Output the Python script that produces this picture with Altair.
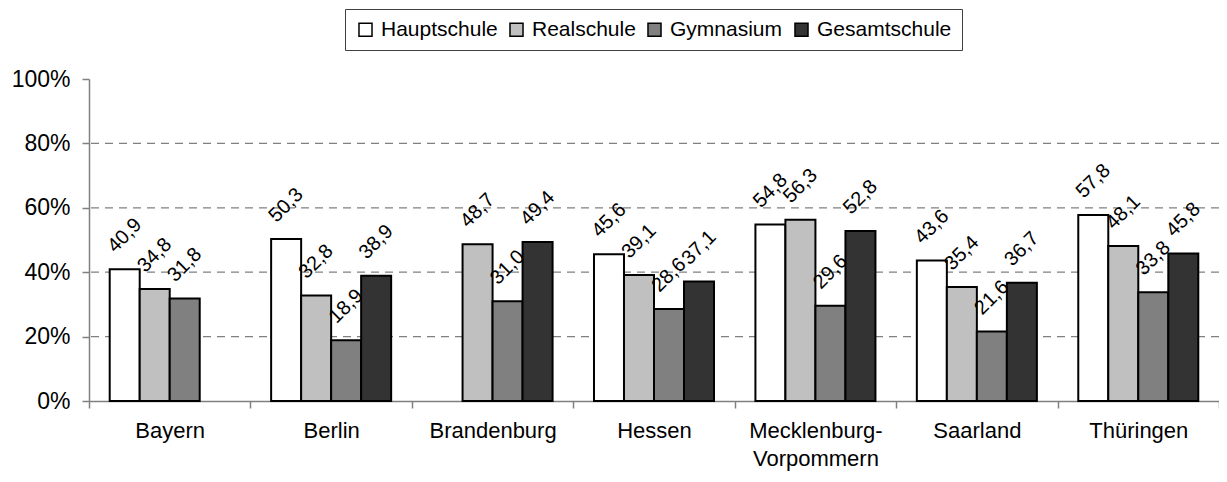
import altair as alt
import pandas as pd

categories = ["Bayern", "Berlin", "Brandenburg", "Hessen",
              "Mecklenburg-Vorpommern", "Saarland", "Thüringen"]
schools = ["Hauptschule", "Realschule", "Gymnasium", "Gesamtschule"]
hauptschule = [40.9, 50.3, None, 45.6, 54.8, 43.6, 57.8]
realschule = [34.8, 32.8, 48.7, 39.1, 56.3, 35.4, 48.1]
gymnasium = [31.8, 18.9, 31.0, 28.6, 29.6, 21.6, 33.8]
gesamtschule = [None, 38.9, 49.4, 37.1, 52.8, 36.7, 45.8]
grid_values = [20, 40, 60, 80]
y_ticks = [0, 20, 40, 60, 80, 100]
colors = ["#FFFFFF", "#C0C0C0", "#808080", "#333333"]

series = dict(zip(schools, [hauptschule, realschule, gymnasium, gesamtschule]))
rows = []
for s, vals in series.items():
    for c, v in zip(categories, vals):
        if v is not None:
            rows.append({"Land": c, "Schulform": s, "Wert": v})
df = pd.DataFrame(rows)
grid_df = pd.DataFrame({"g": grid_values})

FONT = "Liberation Sans"
LIFT = 10.5  # label lift above bar top (in data units)

x_enc = alt.X("Land:N", sort=categories,
              scale=alt.Scale(paddingInner=0, paddingOuter=0),
              axis=alt.Axis(title=None, labelAngle=0, labelFont=FONT, labelFontSize=22,
                            labelColor="black", labelPadding=12, labelLineHeight=28,
                            tickBand="extent", tickSize=7, tickColor="#808080",
                            domainColor="#808080", domainWidth=1.5, tickWidth=1.5,
                            labelExpr="indexof(datum.label, '-') > 0 ? [slice(datum.label, 0, indexof(datum.label, '-') + 1), slice(datum.label, indexof(datum.label, '-') + 1)] : datum.label"))
xo_enc = alt.XOffset("Schulform:N", sort=schools,
                     scale=alt.Scale(paddingOuter=0.69, paddingInner=0))
y_scale = alt.Scale(domain=[0, 100], nice=False)

grid = alt.Chart(grid_df).mark_rule(color="#808080", strokeDash=[8, 6], strokeWidth=1.2).encode(
    y=alt.Y("g:Q", scale=y_scale,
            axis=alt.Axis(title=None, values=y_ticks, grid=False, labelFont=FONT,
                          labelFontSize=23, labelColor="black", labelExpr="datum.value + '%'",
                          tickSize=7, tickColor="#808080", tickWidth=1.5,
                          domainColor="#808080", domainWidth=1.5, labelPadding=12))
)

bars = alt.Chart(df).mark_bar(stroke="black", strokeWidth=2).encode(
    x=x_enc,
    xOffset=xo_enc,
    y=alt.Y("Wert:Q", scale=y_scale),
    color=alt.Color("Schulform:N", sort=schools,
                    scale=alt.Scale(domain=schools, range=colors),
                    legend=alt.Legend(title=None, orient="none", direction="horizontal",
                                      legendX=256, legendY=-70,
                                      symbolType="square", symbolSize=170,
                                      symbolStrokeColor="black", symbolStrokeWidth=1.5,
                                      symbolOpacity=1,
                                      labelFont=FONT, labelFontSize=21, labelColor="black",
                                      columnPadding=8, labelOffset=5,
                                      padding=10, strokeColor="#404040", fillColor="white"))
)

labels = alt.Chart(df).transform_calculate(
    ly=f"datum.Wert + {LIFT}",
    txt="replace(format(datum.Wert, '.1f'), '.', ',')"
).mark_text(angle=315, align="center", baseline="middle", font=FONT, fontSize=20,
            color="black").encode(
    x=x_enc,
    xOffset=xo_enc,
    y=alt.Y("ly:Q", scale=y_scale),
    text="txt:N"
)

chart = alt.layer(grid, bars, labels).properties(
    width=1130, height=322,
    autosize=alt.AutoSizeParams(type="none"),
    padding={"left": 81, "top": 71, "right": 0, "bottom": 73}
).configure_view(stroke=None)

chart.save("out.html", embed_options={"renderer": "svg", "actions": False})
